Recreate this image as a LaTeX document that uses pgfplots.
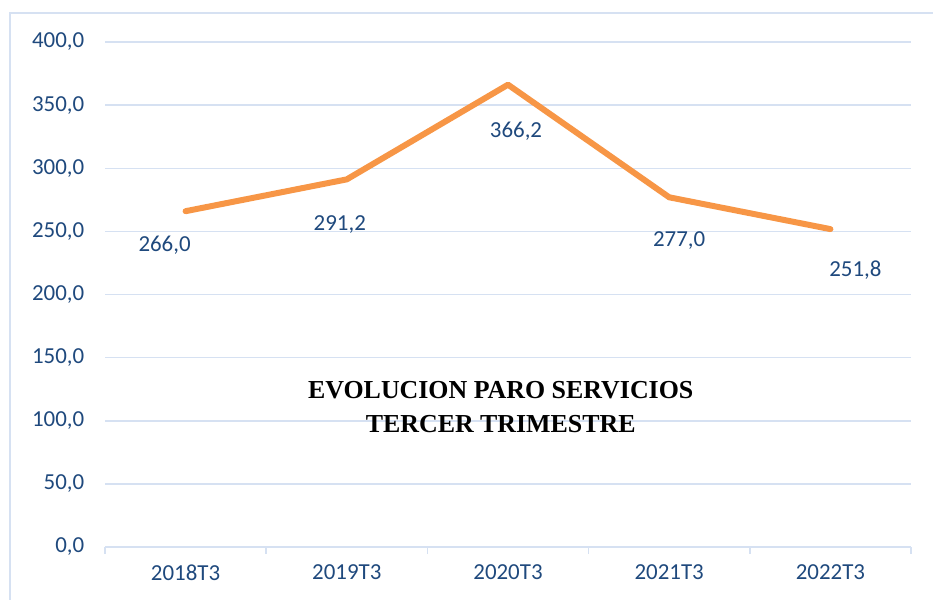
\documentclass[border=0pt]{standalone}
\usepackage{pgfplots}
\pgfplotsset{compat=1.18}
\usepackage{pgfplotstable}
\usepackage{fontspec}
\setmainfont{Carlito}
\newfontfamily\titlefont{Liberation Serif}
\definecolor{txtblue}{HTML}{1F497D}
\definecolor{gridblue}{HTML}{D6E1F2}
\definecolor{lineorange}{HTML}{F79646}

\pgfplotstableread{
x y label dx dy
0 266.0 266,0 -21 -34
1 291.2 291,2 -7 -45
2 366.2 366,2 8 -47
3 277.0 277,0 10 -43
4 251.8 251,8 25 -41
}\datatable

\begin{document}
\begin{tikzpicture}
\useasboundingbox (0,0) rectangle (933bp,-600bp);
\draw[gridblue, line width=2bp] (933bp,-13bp) -- (10bp,-13bp) -- (10bp,-600bp);
\begin{axis}[
  at={(105bp,-547bp)}, anchor=south west,
  scale only axis,
  width=806bp, height=505bp,
  xmin=-0.5, xmax=4.5, ymin=0, ymax=400,
  xtick={0,1,2,3,4},
  xticklabels={2018T3,2019T3,2020T3,2021T3,2022T3},
  minor xtick={-0.5,0.5,1.5,2.5,3.5,4.5},
  ytick={0,50,...,400},
  axis x line*=bottom, axis y line*=left,
  x axis line style={gridblue, line width=1.5bp, -},
  y axis line style={draw=none},
  ytick style={draw=none},
  major x tick style={draw=none},
  minor x tick style={gridblue, line width=1.5bp},
  tick align=outside,
  minor tick length=7bp,
  ymajorgrids,
  grid style={gridblue, line width=1.5bp},
  ticklabel style={font=\fontsize{23}{27}\selectfont, text=txtblue},
  xticklabel style={yshift=-10bp},
  yticklabel style={xshift=-13bp, /pgf/number format/fixed, /pgf/number format/fixed zerofill, /pgf/number format/precision=1, /pgf/number format/use comma, /pgf/number format/1000 sep={}, /pgf/number format/assume math mode=true},
  clip=false,
]
\addplot[lineorange, line width=6bp, line join=round, line cap=round,
  nodes near coords,
  point meta=explicit symbolic,
  visualization depends on={\thisrow{dx} \as \dx},
  visualization depends on={\thisrow{dy} \as \dy},
  every node near coord/.append style={anchor=center, xshift=\dx bp, yshift=\dy bp, text=txtblue, font=\fontsize{23}{27}\selectfont},
] table[x=x, y=y, meta=label] {\datatable};
\node[align=center, font=\titlefont\bfseries\fontsize{26}{34}\selectfont, text=black]
  at (rel axis cs:0.491,0.277) {EVOLUCION PARO SERVICIOS\\TERCER TRIMESTRE};
\end{axis}
\end{tikzpicture}
\end{document}
